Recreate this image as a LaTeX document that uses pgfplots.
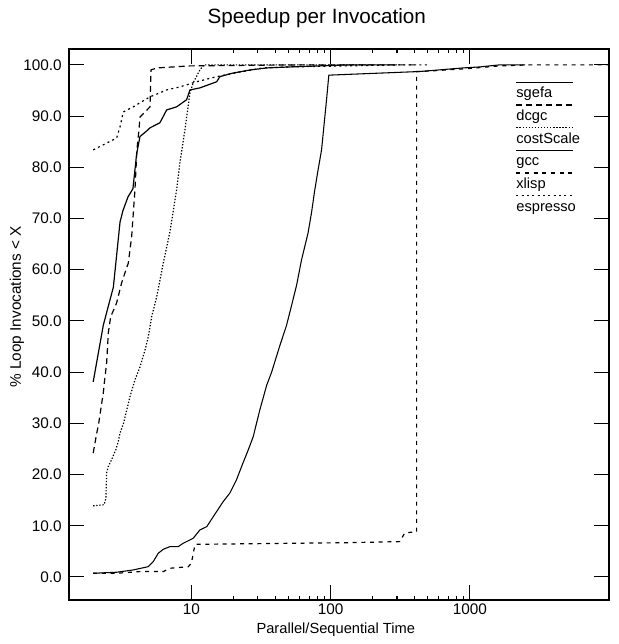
\documentclass[border=0pt]{standalone}
\usepackage{fontspec}
\setmainfont{Liberation Sans}
\usepackage{pgfplots}
\pgfplotsset{compat=1.18}
\begin{document}
\begin{tikzpicture}
\begin{axis}[
  name=ax,
  scale only axis, width=405pt, height=413.25pt,
  xmode=log, xmin=1.32, xmax=10000,
  ymin=-4.5, ymax=103.1,
  xtick={10,100,1000}, xticklabels={10,100,1000},
  ytick={0,10,20,30,40,50,60,70,80,90,100},
  yticklabels={0.0,10.0,20.0,30.0,40.0,50.0,60.0,70.0,80.0,90.0,100.0},
  /pgf/number format/assume math mode=true,
  minor xtick={}, minor ytick={},
  tick align=inside, major tick length=11pt,
  tick style={line width=0.8pt, black},
  axis line style={line width=0.8pt},
  xticklabel style={font=\fontsize{11.5}{13}\selectfont, anchor=center, yshift=-7pt},
  yticklabel style={font=\fontsize{11.5}{13}\selectfont, anchor=east, inner sep=0pt, xshift=-5.25pt},
  every axis title shift=0pt,
  title={Speedup per Invocation},
  title style={font=\fontsize{15.5}{18}\selectfont, at={(axis description cs:0.459,1)}, anchor=center, yshift=23.25pt},
  xlabel={Parallel/Sequential Time},
  xlabel style={font=\fontsize{11}{13}\selectfont, at={(axis description cs:0.494,0)}, anchor=center, yshift=-22.5pt},
  ylabel={\% Loop Invocations < X},
  ylabel style={font=\fontsize{11.5}{13}\selectfont, at={(axis description cs:-0.0963,0.532)}, anchor=center},
  legend cell align=left,
  legend image code/.code={\draw[#1, overlay] (0pt,9pt) -- (42.5pt,9pt);},
  legend style={at={(axis description cs:0.828,0.931)}, anchor=north west, draw=none, fill=none,
    inner sep=0pt, column sep=0pt, row sep=6.5pt,
    nodes={inner sep=0pt, font=\fontsize{11}{13}\selectfont, text height=8pt, text depth=2.5pt}},
]
% sgefa
\addplot[black, line width=0.9pt] coordinates {
(1.97,38.1)(2.33,49.2)(2.60,54.1)(2.75,56.6)(3.07,69.3)(3.22,71.5)(3.50,74.2)(3.80,75.8)
(3.93,79.5)(4.04,82.6)(4.27,86.0)(4.87,87.3)(5.04,87.7)(5.94,88.7)(6.64,91.2)(7.83,91.8)
(9.24,93.2)(9.76,95.1)(11.5,95.5)(15.2,96.7)(16.0,97.7)(19.9,98.4)(26.3,99.0)(34.7,99.4)
(50.9,99.6)(137,100)(300,100)};
\addlegendentry{sgefa}
% dcgc
\addplot[black, line width=0.9pt, dash pattern=on 4.5pt off 3pt] coordinates {
(1.97,24.2)(2.09,28.1)(2.16,30.1)(2.27,34.0)(2.33,36.0)(2.37,38.0)(2.46,41.8)(2.53,47.7)
(2.63,50.8)(2.90,53.5)(3.15,57.4)(3.52,61.3)(3.72,66.4)(3.93,75.6)(4.06,83.4)(4.20,87.3)
(4.27,89.8)(5.04,91.8)(5.12,99.0)(5.65,99.4)(9.76,99.8)(60,100)(400,100)};
\addlegendentry{dcgc}
% costScale
\addplot[black, line width=0.9pt, dash pattern=on 1pt off 1.3pt] coordinates {
(1.97,13.9)(2.36,14.1)(2.43,15.4)(2.46,20.3)(2.52,21.5)(2.67,22.9)(2.86,24.8)(2.98,26.4)
(3.07,28.1)(3.26,30.1)(3.43,32.6)(3.62,35.2)(3.93,38.5)(4.27,41.0)(4.64,44.3)(4.90,46.9)
(5.18,50.8)(5.63,54.7)(6.28,61.3)(7.01,67.4)(7.83,75.6)(8.27,80.9)(8.98,87.3)(9.76,94.5)
(10.3,96.5)(11.5,99.0)(12.3,100)(200,100)};
\addlegendentry{costScale}
% gcc
\addplot[black, line width=0.8pt] coordinates {
(1.97,0.72)(2.90,0.92)(3.82,1.37)(4.90,2.01)(5.32,3.0)(5.78,4.63)(6.28,5.40)(7.01,5.92)
(8.04,5.92)(8.73,6.58)(10.3,7.55)(11.5,9.18)(12.9,9.83)(13.6,10.8)(15.2,12.8)(16.9,14.7)
(18.9,16.4)(21.1,19.0)(23.5,22.3)(25.6,24.8)(27.8,27.4)(31.0,32.6)(34.7,37.4)(37.7,40.0)
(43.2,45.2)(48.2,49.1)(52.4,53.0)(56.9,56.9)(61.8,61.9)(68.9,67.2)(72.9,71.1)(77.0,75.6)
(81.3,79.5)(86.1,83.4)(93.5,93.2)(97.1,98.0)(98.7,98.0)(436,98.7)(893,99.4)(1180,99.6)
(1640,100)(2500,100)};
\addlegendentry{gcc}
% xlisp
\addplot[black, line width=0.9pt, dash pattern=on 3pt off 3.5pt] coordinates {
(1.97,0.72)(2.90,0.72)(4.27,1.05)(6.28,1.05)(7.01,1.7)(9.49,2.0)(10.0,2.7)(10.6,6.3)
(10.9,6.4)(13.6,6.4)(137,6.7)(314,6.9)(341,8.6)(402,8.8)(415,8.8)(415,98.7)(515,98.8)
(1000,99.3)(1640,99.8)(2690,100)(10000,100)};
\addlegendentry{xlisp}
% espresso
\addplot[black, line width=0.9pt, dash pattern=on 1.5pt off 2.5pt] coordinates {
(1.97,83.4)(2.33,84.4)(2.90,85.7)(3.07,87.9)(3.24,90.8)(3.82,91.8)(4.27,92.6)(5.04,93.75)
(6.64,95.1)(8.27,95.7)(10.9,96.7)(15.2,97.7)(22.3,98.6)(32.6,99.4)(50.9,99.6)(314,100)(500,100)};
\addlegendentry{espresso}
\end{axis}
\pgfresetboundingbox
\path (ax.south west) ++(-51.75pt,-33pt) coordinate (bl);
\path (ax.north east) ++(7.5pt,36.75pt) coordinate (tr);
\useasboundingbox (bl) rectangle (tr);
\end{tikzpicture}
\end{document}
